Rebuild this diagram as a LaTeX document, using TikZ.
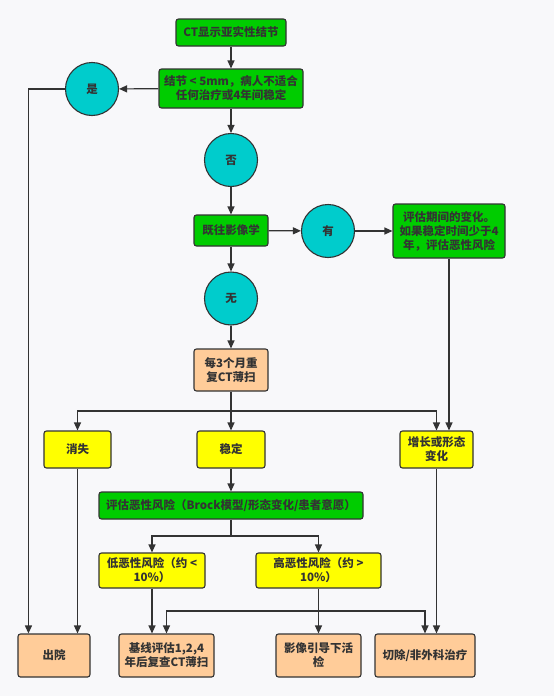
\documentclass[tikz,border=0pt]{standalone}
\usepackage{fontspec}
\setmainfont{Noto Sans CJK SC}
\usetikzlibrary{arrows.meta,calc}
\definecolor{bg}{HTML}{F8F8FA}
\definecolor{linec}{HTML}{333333}
\definecolor{gfill}{HTML}{00CC00}
\definecolor{cfill}{HTML}{00CCCC}
\definecolor{yfill}{HTML}{FFFF00}
\definecolor{pfill}{HTML}{FFCC99}
\tikzset{
  x=1pt,y=-1pt,
  basebox/.style={draw=linec,line width=1.1pt,rounded corners=2.5pt,align=center,inner sep=1pt,
    text=linec,font=\fontsize{11.5}{14}\selectfont\bfseries},
  gbox/.style={basebox,fill=gfill},
  ybox/.style={basebox,fill=yfill},
  pbox/.style={basebox,fill=pfill},
  circ/.style={circle,draw=linec,line width=1.1pt,fill=cfill,minimum size=53pt,inner sep=0pt,
    text=linec,font=\fontsize{11.5}{14}\selectfont\bfseries},
  arr/.style={draw=linec,line width=1.2pt,-{Triangle[length=8pt,width=7pt]}},
  ln/.style={draw=linec,line width=1.2pt}
}
\begin{document}
\begin{tikzpicture}
\fill[bg] (0,0) rectangle (554,696);
\useasboundingbox (0,0) rectangle (554,696);

\node[gbox,minimum width=110pt,minimum height=27pt] (n1) at (231,32.5) {CT显示亚实性结节};
\node[gbox,minimum width=144pt,minimum height=39pt] (n2) at (231,88.5) {结节 < 5mm，病人不适合\\任何治疗或4年间稳定};
\node[circ] (yes) at (92,89) {是};
\node[circ] (no) at (231,160) {否};
\node[gbox,minimum width=74pt,minimum height=31pt] (n3) at (231,230.5) {既往影像学};
\node[circ] (have) at (328,231) {有};
\node[gbox,minimum width=112pt,minimum height=54pt] (n4) at (449,231) {评估期间的变化。\\如果稳定时间少于4\\年，评估恶性风险};
\node[circ] (none) at (231,298.5) {无};
\node[pbox,minimum width=74pt,minimum height=42pt] (n5) at (231,370) {每3个月重\\复CT薄扫};
\node[ybox,minimum width=67pt,minimum height=37pt] (vanish) at (77.5,449.5) {消失};
\node[ybox,minimum width=68pt,minimum height=37pt] (stable) at (231,449.5) {稳定};
\node[ybox,minimum width=73pt,minimum height=37pt] (grow) at (436.5,449.5) {增长或形态\\变化};
\node[gbox,minimum width=264pt,minimum height=27pt] (assess) at (231,505.5) {评估恶性风险（Brock模型/形态变化/患者意愿）};
\node[ybox,minimum width=106pt,minimum height=35pt] (low) at (152,570.5) {低恶性风险（约 <\\10\%）};
\node[ybox,minimum width=125pt,minimum height=35pt] (high) at (318.5,570.5) {高恶性风险（约 >\\10\%）};
\node[pbox,minimum width=72pt,minimum height=43pt] (out) at (54,655.5) {出院};
\node[pbox,minimum width=95pt,minimum height=43pt] (base) at (166.5,655.5) {基线评估1,2,4\\年后复查CT薄扫};
\node[pbox,minimum width=85pt,minimum height=43pt] (biopsy) at (318.5,655.5) {影像引导下活\\检};
\node[pbox,minimum width=100pt,minimum height=43pt] (resect) at (425,655.5) {切除/非外科治疗};

\coordinate (bus1) at (231,411);
\coordinate (bus2) at (231,536);
\coordinate (bus3) at (318.5,611);
\coordinate (yesdown) at ($(out.north west)+(11,0)$);

\draw[arr] (n1) -- (n2);
\draw[arr] (n2) -- (yes);
\draw[arr] (yes.west) -| (yesdown);
\draw[arr] (n2) -- (no);
\draw[arr] (no) -- (n3);
\draw[arr] (n3) -- (have);
\draw[arr] (have) -- (n4);
\draw[arr] (n3) -- (none);
\draw[arr] (none) -- (n5);
\draw[arr] (n4.south) -- (n4.south |- grow.north);
\draw[arr] (n5) -- (stable);
\draw[arr] (bus1) -| (vanish.north);
\draw[arr] (bus1) -| (grow.north);
\draw[arr] (vanish.south) -- (vanish.south |- out.north);
\draw[arr] (stable) -- (assess);
\draw[ln] (assess.south) -- (bus2);
\draw[arr] (bus2) -| (low.north);
\draw[arr] (bus2) -| (high.north);
\draw[arr] (low.south) -- (low.south |- base.north);
\draw[arr] (high) -- (biopsy);
\draw[arr] (bus3) -| (base.north);
\draw[arr] (bus3) -| (resect.north);
\draw[arr] (grow.south) -- (grow.south |- resect.north);
\end{tikzpicture}
\end{document}
